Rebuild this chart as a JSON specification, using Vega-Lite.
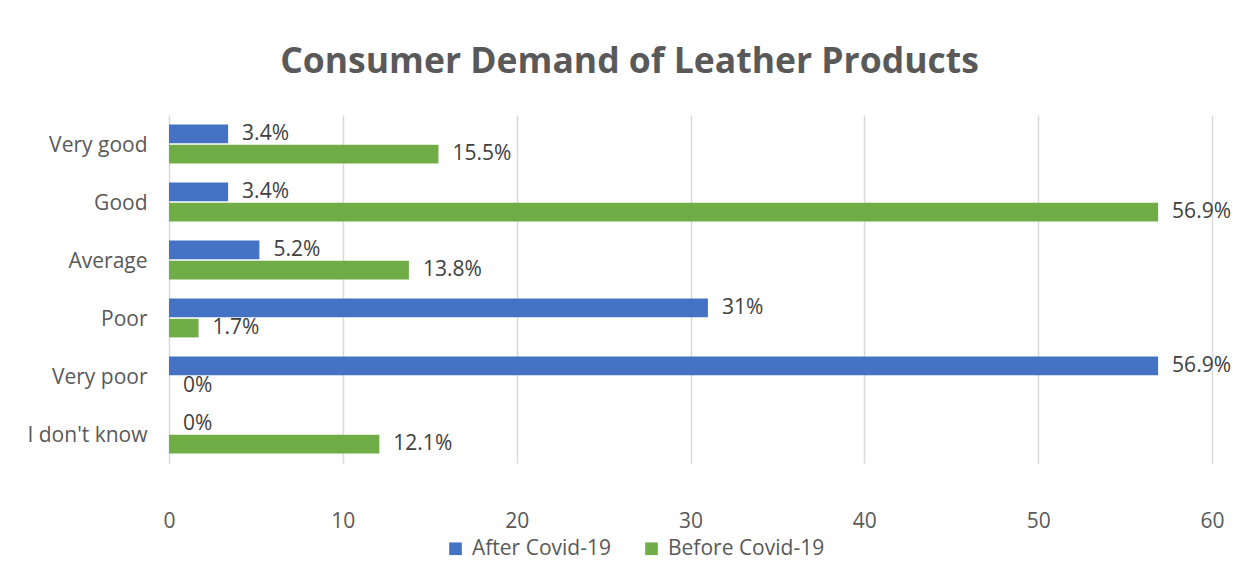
{
  "$schema": "https://vega.github.io/schema/vega-lite/v6.json",
  "autosize": "none",
  "width": 1043,
  "height": 348,
  "padding": {"left": 169, "top": 115, "right": 38, "bottom": 115},
  "background": "white",
  "title": {
    "text": "Consumer Demand of Leather Products",
    "font": "Open Sans",
    "fontSize": 35.5,
    "fontWeight": "bold",
    "color": "#595959",
    "anchor": "middle",
    "dx": -61,
    "offset": 35
  },
  "config": {
    "view": {"stroke": null},
    "font": "Open Sans"
  },
  "data": {
    "values": [
      {"rating": "Very good", "period": "After Covid-19", "value": 3.4},
      {"rating": "Very good", "period": "Before Covid-19", "value": 15.5},
      {"rating": "Good", "period": "After Covid-19", "value": 3.4},
      {"rating": "Good", "period": "Before Covid-19", "value": 56.9},
      {"rating": "Average", "period": "After Covid-19", "value": 5.2},
      {"rating": "Average", "period": "Before Covid-19", "value": 13.8},
      {"rating": "Poor", "period": "After Covid-19", "value": 31},
      {"rating": "Poor", "period": "Before Covid-19", "value": 1.7},
      {"rating": "Very poor", "period": "After Covid-19", "value": 56.9},
      {"rating": "Very poor", "period": "Before Covid-19", "value": 0},
      {"rating": "I don't know", "period": "After Covid-19", "value": 0},
      {"rating": "I don't know", "period": "Before Covid-19", "value": 12.1}
    ]
  },
  "transform": [
    {"calculate": "format(datum.value, '.1~f') + '%'", "as": "label"}
  ],
  "encoding": {
    "y": {
      "field": "rating",
      "type": "nominal",
      "sort": ["Very good", "Good", "Average", "Poor", "Very poor", "I don't know"],
      "scale": {"paddingInner": 0.33, "paddingOuter": 0.165},
      "axis": {
        "title": null,
        "domain": false,
        "ticks": false,
        "labelFont": "Open Sans",
        "labelFontSize": 21,
        "labelColor": "#595959",
        "labelPadding": 22,
        "labelBaseline": "middle",
        "labelOffset": 2
      }
    },
    "yOffset": {
      "field": "period",
      "type": "nominal",
      "sort": ["After Covid-19", "Before Covid-19"],
      "scale": {"paddingInner": 0.08}
    },
    "x": {
      "field": "value",
      "type": "quantitative",
      "scale": {"domain": [0, 60], "nice": false},
      "axis": {
        "title": null,
        "values": [0, 10, 20, 30, 40, 50, 60],
        "domain": false,
        "ticks": false,
        "grid": true,
        "gridColor": "#d9d9d9",
        "gridWidth": 1.5,
        "labelFlush": false,
        "labelFont": "Open Sans",
        "labelFontSize": 21,
        "labelColor": "#595959",
        "labelPadding": 47
      }
    }
  },
  "layer": [
    {
      "mark": {"type": "bar"},
      "encoding": {
        "color": {
          "field": "period",
          "type": "nominal",
          "scale": {"domain": ["After Covid-19", "Before Covid-19"], "range": ["#4472C4", "#70AD47"]},
          "legend": {
            "title": null,
            "orient": "none",
            "direction": "horizontal",
            "legendX": 276,
            "legendY": 423,
            "symbolType": "square",
            "symbolSize": 160,
            "symbolStrokeWidth": 0,
            "labelFont": "Open Sans",
            "labelFontSize": 21,
            "labelColor": "#595959",
            "columnPadding": 30,
            "labelOffset": 6
          }
        }
      }
    },
    {
      "mark": {"type": "text", "align": "left", "baseline": "middle", "dx": 14, "font": "Open Sans", "fontSize": 21, "color": "#404040"},
      "encoding": {
        "text": {"field": "label"}
      }
    }
  ]
}
